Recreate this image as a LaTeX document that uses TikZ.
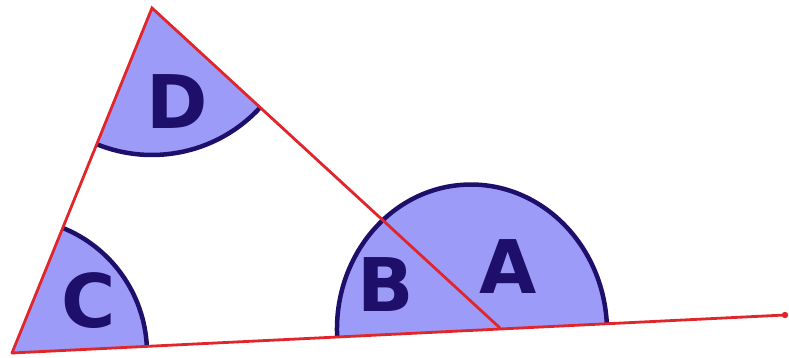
\documentclass[tikz,border=0pt]{standalone}
\usepackage{fontspec}
\setsansfont{DejaVu Sans}
\usetikzlibrary{calc}
\definecolor{AngleFill}{HTML}{9C9CF8}
\definecolor{AngleInk}{HTML}{1E0F6B}
\definecolor{SideRed}{HTML}{E0262B}

\begin{document}
\begin{tikzpicture}[
  x=1pt,
  y=1pt,
  sector/.style={fill=AngleFill},
  arcline/.style={draw=AngleInk, line width=4.5pt},
  side/.style={draw=SideRed, line width=2.8pt, line cap=round},
  anglelabel/.style={text=AngleInk, font=\sffamily\bfseries\fontsize{74}{74}\selectfont, inner sep=0pt}
]
\useasboundingbox (0,0) rectangle (789,358);

\coordinate (C) at (12,5);
\coordinate (T) at (152,350);
\coordinate (B) at (500,30);
\coordinate (E) at (785,43);

% angle D at the top vertex
\fill[sector] (T) -- ++(247.9:147) arc[start angle=247.9, end angle=317.4, radius=147] -- cycle;
\draw[arcline] ($(T)+(247.9:147)$) arc[start angle=247.9, end angle=317.4, radius=147];

% angle C at the left vertex
\fill[sector] (C) -- ++(2.8:135) arc[start angle=2.8, end angle=67.9, radius=135] -- cycle;
\draw[arcline] ($(C)+(2.8:135)$) arc[start angle=2.8, end angle=67.9, radius=135];

% angles A and B on the base line
\begin{scope}[shift={(472,27.5)}, rotate=2.8]
  \fill[sector] (-135,0) arc[start angle=180, end angle=0, x radius=135, y radius=146] -- cycle;
  \draw[arcline] (-135,0) arc[start angle=180, end angle=0, x radius=135, y radius=146];
\end{scope}

\draw[side] (C) -- (T) -- (B);
\draw[side] (C) -- (E);
\fill[SideRed] (E) circle (3.2);

\node[anglelabel] (labelD) at (177,256) {D};
\node[anglelabel] (labelC) at (89,57) {C};
\node[anglelabel] (labelB) at (386,73) {B};
\node[anglelabel] (labelA) at (508,91) {A};
\end{tikzpicture}
\end{document}
